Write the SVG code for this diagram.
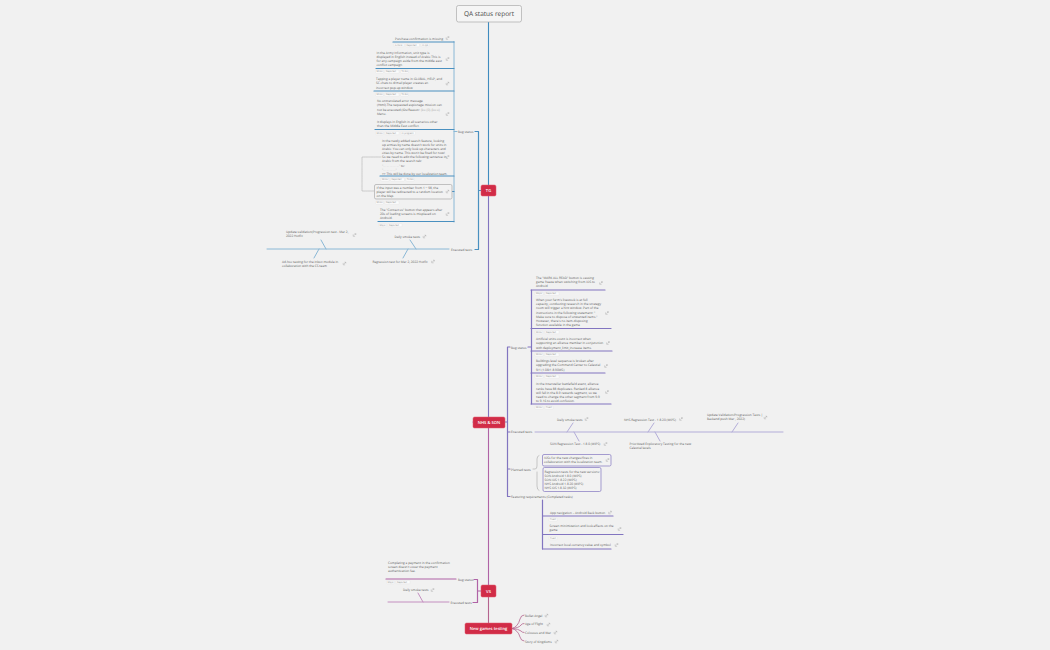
<svg xmlns="http://www.w3.org/2000/svg" width="1050" height="650" viewBox="0 0 1050 650">
<style>
text{font-family:"Open Sans","Liberation Sans",sans-serif;font-size:3.15px;fill:#5a5a5a;text-rendering:geometricPrecision}
.tag{font-size:2.3px;fill:#888}
.tr{fill:#fbfbfb;stroke:#ddd;stroke-width:.3}
.pale{fill:#aaa}
.hub{fill:#d12c47;stroke:#e05a6e;stroke-width:.5}
.hubt{fill:#fff;font-size:4.1px;font-weight:600;text-anchor:middle}
.l{fill:none;stroke-linecap:round}
.b{stroke:#4a90c0;stroke-width:1.2}
.bl{stroke:#8ab8d6;stroke-width:1}
.p{stroke:#8275c0;stroke-width:1.2}
.pl{stroke:#b3add9;stroke-width:1}
.m{stroke:#b063a6;stroke-width:1.2}
.ml{stroke:#c48fc0;stroke-width:1}
.box{fill:#f2f2f2;stroke-width:.7}
.ic{fill:none;stroke:#999;stroke-width:.4}
</style>
<defs>
<g id="ext"><path class="ic" d="M-1.300-.6V1.300H.6M-.4.4 1.300-1.300M0-1.300H1.300V0"/></g>
</defs>
<rect width="1050" height="650" fill="#f1f1f1"/>
<g id="connectors">
<path class="l" stroke="#3f8bbf" stroke-width="1.100" d="M488.500 22V185"/>
<path class="l" stroke="#8275c0" stroke-width="1.100" d="M488.500 196V417"/>
<path class="l" stroke="#b063a6" stroke-width="1.100" d="M488.500 428V585"/>
<path class="l" stroke="#b5648f" stroke-width="1.100" d="M488.500 597V623"/>
<path class="l b" d="M481 190.500H478.500M478.500 131.500V249.500M475 131.500H478.500M475 249.500H478.500"/>
<path class="l bl" d="M454 41.500V222M454 131.500H457"/>
<path class="l b" d="M393 42H454M376 68.500H454M374 91H454M375 129.500H454M380 176H454M378 221.500H454M452 191.500H454"/>
<path class="l" stroke="#aaa" stroke-width=".5" stroke-dasharray="1 .7" d="M381 157H362V191H374"/>
<path class="l bl" d="M267 249H449M321 240 326 249M319 249 314 258M410 240 416 249M408 249 403 258"/>
<path class="l p" d="M473 422H507.500M507.500 347V496.500M507.500 347H510M507.500 432H510M507.500 469H510M507.500 496.500H510M528 347H531.500M531.500 290V404M542.500 500V549"/>
<path class="l p" d="M531 290H605M531 328.500H611M531 351H612M531 373H605M531 404H611M542.500 516H613M542.500 534.500H623M542.500 549H611"/>
<path class="l pl" d="M535 432H783M573 423 567 432M574 432 579 441M654 423 648 432M655 432 660 441M738 423 732 432"/>
<path class="l" stroke="#999" stroke-width=".5" d="M533 469H535Q537 469 537 466V459Q537 456 539 455.500M537 472V486Q537 490 539 490.500"/>
<path class="l m" d="M481 591H477.500M477.500 579.500V602.500M474 579.500H477.500M473 602.500H477.500M386 579H456"/>
<path class="l ml" d="M388 602H449M418 593 423 602"/>
<path class="l" stroke="#b5648f" stroke-width=".8" d="M512 628.500Q518 627 520 619 521 615 524 615M512 628.500Q519 628 521 625 522 623.500 524 623.500M512 628.500Q519 629 521 631 522 632.500 524 632.500M512 628.500Q518 630 520 637 521 641 524 641"/>
</g>
<g id="root"><rect x="456.500" y="5.500" width="65" height="16.500" rx="2" fill="#f5f5f5" stroke="#aaa" stroke-width=".7"/><text x="489" y="16" text-anchor="middle" style="font-size:6.500px;fill:#444;font-weight:500">QA status report</text></g>
<g id="tg"><rect class="hub" x="481" y="185" width="15" height="11" rx="1.500"/><text class="hubt" x="488.500" y="192">TG</text></g>
<g id="nhs-son"><rect class="hub" x="473" y="417" width="32" height="11" rx="1.500"/><text class="hubt" x="489" y="424">NHS &amp; SON</text></g>
<g id="vs"><rect class="hub" x="481" y="585" width="15" height="12" rx="1.500"/><text class="hubt" x="488.500" y="592.500">VS</text></g>
<g id="new-games"><rect class="hub" x="465" y="623" width="47" height="11" rx="1.500"/><text class="hubt" x="488.500" y="630">New games testing</text></g>
<g id="tg-bug-status"><text x="458" y="133">Bug status</text></g>
<g id="tg-executed"><text x="451" y="250.500">Executed tests</text></g>
<g id="tg-b1"><text x="395" y="39.500">Purchase confirmation is missing</text><use href="#ext" x="447.500" y="38"/>
<rect class="tr" x="394" y="43.500" width="10" height="3.200" rx=".5"/><text class="tag" x="395" y="45.900">Critical</text><rect class="tr" x="405.500" y="43.500" width="14" height="3.200" rx=".5"/><text class="tag" x="406.500" y="45.900">Reported</text><rect class="tr" x="421" y="43.500" width="8" height="3.200" rx=".5"/><text class="tag" x="422" y="45.900">In QA</text></g>
<g id="tg-b2"><text x="376.500" y="54">In the Army Information, unit type is</text><text x="376.500" y="58">displayed in English instead of Arabic This is</text><text x="376.500" y="62">for any campaign aside from the middle east</text><text x="376.500" y="66">conflict campaign</text><use href="#ext" x="447.500" y="59"/>
<rect class="tr" x="375.500" y="70" width="8" height="3.200" rx=".5"/><text class="tag" x="376.500" y="72.400">Minor</text><rect class="tr" x="385" y="70" width="14" height="3.200" rx=".5"/><text class="tag" x="386" y="72.400">Reported</text><rect class="tr" x="400.500" y="70" width="8" height="3.200" rx=".5"/><text class="tag" x="401.500" y="72.400">To Do</text></g>
<g id="tg-b3"><text x="376" y="80">Tapping a player name in GLOBAL, HELP, and</text><text x="376" y="84">SC chats to d/mail player creates an</text><text x="376" y="88.500">incorrect pop-up window</text><use href="#ext" x="447.500" y="83.500"/>
<rect class="tr" x="375.500" y="93" width="8" height="3.200" rx=".5"/><text class="tag" x="376.500" y="95.400">Minor</text><rect class="tr" x="385" y="93" width="14" height="3.200" rx=".5"/><text class="tag" x="386" y="95.400">Reported</text><rect class="tr" x="400.500" y="93" width="8" height="3.200" rx=".5"/><text class="tag" x="401.500" y="95.400">To Do</text></g>
<g id="tg-b4"><text x="377" y="102">No untranslated error message</text><text x="377" y="106">(Html).The requested espionage mission can</text><text x="377" y="110.500">not be executed.(IDs/Reason: <tspan class="pale">{ku.{0}.{ku.u}</tspan></text><text x="377" y="114.500">Menu.</text><text x="377" y="123">It displays in English in all scenarios other</text><text x="377" y="127">than the Middle East conflict.</text><use href="#ext" x="447.500" y="114"/>
<rect class="tr" x="375.500" y="131.500" width="8" height="3.200" rx=".5"/><text class="tag" x="376.500" y="133.900">Minor</text><rect class="tr" x="385" y="131.500" width="14" height="3.200" rx=".5"/><text class="tag" x="386" y="133.900">Reported</text><rect class="tr" x="400.500" y="131.500" width="15" height="3.200" rx=".5"/><text class="tag" x="401.500" y="133.900">In progress</text></g>
<g id="tg-b5"><text x="382" y="142">In the newly added search feature, looking</text><text x="382" y="146">up armies by name doesn't work for units in</text><text x="382" y="150">Arabic. You can only look up characters and</text><text x="382" y="154">cities by name. This won't be fixed for now!</text><text x="382" y="158">So we need to edit the following sentence in</text><text x="382" y="162">Arabic from the search tab:</text><text class="pale" x="382" y="166.500">"... ... ... ... ..." <tspan style="fill:#5a5a5a">to:</tspan></text><text class="pale" x="382" y="170.500">"... ... ... ..."</text><text x="382" y="174.500">&gt;&gt; This will be done by our localization team.</text><use href="#ext" x="447.500" y="157"/>
<rect class="tr" x="381" y="178" width="8" height="3.200" rx=".5"/><text class="tag" x="382" y="180.400">Minor</text><rect class="tr" x="390.500" y="178" width="14" height="3.200" rx=".5"/><text class="tag" x="391.500" y="180.400">Reported</text><rect class="tr" x="406" y="178" width="8" height="3.200" rx=".5"/><text class="tag" x="407" y="180.400">To Do</text></g>
<g id="tg-b6"><rect class="box" x="374.500" y="184.500" width="77.500" height="14.500" rx="1.500" stroke="#aaa"/><text x="376.500" y="189">If the input was a number from 1 ~ 98, the</text><text x="376.500" y="193">player will be redirected to a random location</text><text x="376.500" y="197">on the Map.</text><use href="#ext" x="447.500" y="191.500"/>
<rect class="tr" x="375.500" y="201" width="8" height="3.200" rx=".5"/><text class="tag" x="376.500" y="203.400">Minor</text><rect class="tr" x="385" y="201" width="14" height="3.200" rx=".5"/><text class="tag" x="386" y="203.400">Reported</text></g>
<g id="tg-b7"><text x="380" y="211">The "Contact us" button that appears after</text><text x="380" y="215">20s of loading screens is misplaced on</text><text x="380" y="219">Android.</text><use href="#ext" x="447.500" y="214"/>
<rect class="tr" x="378.500" y="223.500" width="8" height="3.200" rx=".5"/><text class="tag" x="379.500" y="225.900">Major</text><rect class="tr" x="388" y="223.500" width="14" height="3.200" rx=".5"/><text class="tag" x="389" y="225.900">Reported</text></g>
<g id="tg-e1"><text x="286" y="233">Update validation(Progression test - Mar 2,</text><text x="286" y="237">2022 Hotfix</text><use href="#ext" x="354.500" y="235"/></g>
<g id="tg-e2"><text x="394.500" y="237.500">Daily smoke tests</text><use href="#ext" x="424.500" y="236.500"/></g>
<g id="tg-e3"><text x="282" y="263">Ad-hoc testing for the inbox module in</text><text x="282" y="267">collaboration with the CS team</text><use href="#ext" x="344.500" y="263.500"/></g>
<g id="tg-e4"><text x="372.500" y="263">Regression test for Mar 2, 2022 Hotfix</text><use href="#ext" x="433" y="261.500"/></g>
<g id="ns-bug-status"><text x="511" y="348.500">Bug status</text></g>
<g id="ns-executed"><text x="511" y="433">Executed tests</text></g>
<g id="ns-planned"><text x="511" y="470.500">Planned tests</text></g>
<g id="ns-featuring"><text x="511" y="498">Featuring requirements (Completed tasks)</text></g>
<g id="ns-b1"><text x="536" y="279">The "MARK ALL READ" button is causing</text><text x="536" y="283">game freeze when switching from iOS to</text><text x="536" y="287">Android</text><use href="#ext" x="601" y="283"/>
<rect class="tr" x="535" y="292" width="8" height="3.200" rx=".5"/><text class="tag" x="536" y="294.400">Major</text><rect class="tr" x="545" y="292" width="14" height="3.200" rx=".5"/><text class="tag" x="546" y="294.400">Reported</text></g>
<g id="ns-b2"><text x="536" y="301">When your farm's livestock is at full</text><text x="536" y="305">capacity, conducting research in the strategy</text><text x="536" y="309">room will trigger a hint window. Part of the</text><text x="536" y="313.500">instructions in the following statement: "</text><text x="536" y="318">Make sure to dispose of unwanted items."</text><text x="536" y="322">However, there's no item-disposing</text><text x="536" y="326">function available in the game</text><use href="#ext" x="607" y="313"/>
<rect class="tr" x="535" y="330.500" width="8" height="3.200" rx=".5"/><text class="tag" x="536" y="332.900">Minor</text><rect class="tr" x="545" y="330.500" width="14" height="3.200" rx=".5"/><text class="tag" x="546" y="332.900">Reported</text></g>
<g id="ns-b3"><text x="536" y="340">Artificial units count is incorrect when</text><text x="536" y="344">supporting an alliance member in conjunction</text><text x="536" y="348.500">with deployment_limit_increase items.</text><use href="#ext" x="608" y="343"/>
<rect class="tr" x="535" y="353" width="8" height="3.200" rx=".5"/><text class="tag" x="536" y="355.400">Minor</text><rect class="tr" x="545" y="353" width="14" height="3.200" rx=".5"/><text class="tag" x="546" y="355.400">Reported</text></g>
<g id="ns-b4"><text x="536" y="362">Buildings level sequence is broken after</text><text x="536" y="366">upgrading the Command Center to Celestial</text><text x="536" y="370.500">9/1 (1.08/1.8.90W5)</text><use href="#ext" x="606" y="366"/>
<rect class="tr" x="535" y="375" width="8" height="3.200" rx=".5"/><text class="tag" x="536" y="377.400">Minor</text><rect class="tr" x="545" y="375" width="14" height="3.200" rx=".5"/><text class="tag" x="546" y="377.400">Reported</text></g>
<g id="ns-b5"><text x="536" y="385">In the Interstellar battlefield event, alliance</text><text x="536" y="389.500">ranks have 88 duplicates. Ranked 8 alliance</text><text x="536" y="393.500">will fall in the 8-9 rewards segment, so we</text><text x="536" y="397.500">need to change the other segment from 9-9</text><text x="536" y="401.500">to 9-16 to avoid confusion.</text><use href="#ext" x="607" y="392"/>
<rect class="tr" x="535" y="406" width="8" height="3.200" rx=".5"/><text class="tag" x="536" y="408.400">Minor</text><rect class="tr" x="545" y="406" width="8" height="3.200" rx=".5"/><text class="tag" x="546" y="408.400">Fixed</text></g>
<g id="ns-e1"><text x="557" y="420.500">Daily smoke tests</text><use href="#ext" x="586.500" y="419"/></g>
<g id="ns-e2"><text x="624" y="420.500">NHS Regression Test - 1.8.20 (WIP5)</text><use href="#ext" x="681" y="419"/></g>
<g id="ns-e3"><text x="707" y="416">Update Validation/Progression Tests |</text><text x="707" y="420">Backend push Mar , 2022)</text><use href="#ext" x="765.500" y="417.500"/></g>
<g id="ns-e4"><text x="550" y="445">SON Regression Test - 1.8.0 (WIP5)</text><use href="#ext" x="605.500" y="444"/></g>
<g id="ns-e5"><text x="629.500" y="445">Prioritized Exploratory Testing for the new</text><text x="629.500" y="449">Celestial levels</text></g>
<g id="ns-p1"><rect class="box" x="542.500" y="454.500" width="68.500" height="11.500" rx="1.500" stroke="#8275c0"/><text x="544" y="459">IOSs for the new changes/fixes in</text><text x="544" y="463">collaboration with the localization team.</text><use href="#ext" x="607.500" y="460"/></g>
<g id="ns-p2"><rect class="box" x="543" y="467.500" width="58" height="24" rx="1.500" stroke="#8275c0"/><text x="544.500" y="472.500">Regression tests for the new versions:</text><text x="544.500" y="476.800">SON Android 1.8.0 (WIP5)</text><text x="544.500" y="480.800">SON iOS 1.8.22 (WIP5)</text><text x="544.500" y="484.800">NHS Android 1.8.20 (WIP5)</text><text x="544.500" y="488.800">NHS iOS 1.8.32 (WIP5)</text></g>
<g id="ns-f1"><text x="550" y="513.500">App navigation – Android Back button</text><use href="#ext" x="610" y="512.500"/>
<rect class="tr" x="549" y="518" width="8" height="3.200" rx=".5"/><text class="tag" x="550" y="520.400">Fixed</text></g>
<g id="ns-f2"><text x="549.500" y="527">Screen minimization and look effects on the</text><text x="549.500" y="531">game</text><use href="#ext" x="619.500" y="529"/>
<rect class="tr" x="549" y="536.500" width="8" height="3.200" rx=".5"/><text class="tag" x="550" y="538.900">Fixed</text></g>
<g id="ns-f3"><text x="550" y="546">Incorrect local currency value and symbol</text><use href="#ext" x="616.500" y="545"/></g>
<g id="vs-bug-status"><text x="458" y="580.500">Bug status</text></g>
<g id="vs-executed"><text x="450.500" y="604">Executed tests</text></g>
<g id="vs-b1"><text x="388" y="564">Completing a payment in the confirmation</text><text x="388" y="568">screen doesn't cover the payment</text><text x="388" y="572">authentication fee.</text>
<rect class="tr" x="386.500" y="580.500" width="8" height="3.200" rx=".5"/><text class="tag" x="387.500" y="582.900">Major</text><rect class="tr" x="396" y="580.500" width="14" height="3.200" rx=".5"/><text class="tag" x="397" y="582.900">Reported</text></g>
<g id="vs-e1"><text x="403" y="591">Daily smoke tests</text><use href="#ext" x="432.500" y="590"/></g>
<g id="ng1"><text x="525" y="616.500">Bullet Angel</text><use href="#ext" x="546.500" y="615.500"/></g>
<g id="ng2"><text x="525" y="625">Age of Flight</text><use href="#ext" x="548.500" y="624.500"/></g>
<g id="ng3"><text x="525" y="634">Colossus and War</text><use href="#ext" x="555.500" y="632.500"/></g>
<g id="ng4"><text x="525" y="642.500">Story of Kingdoms</text><use href="#ext" x="556.500" y="641.500"/></g>
</svg>
